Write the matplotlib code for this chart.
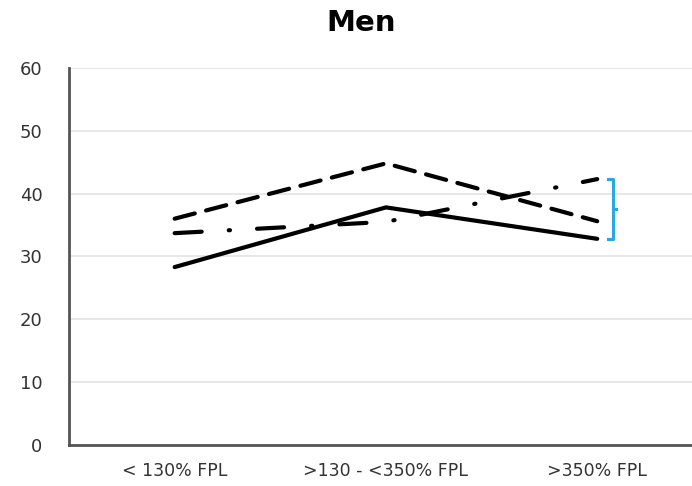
import matplotlib
matplotlib.use("Agg")
import matplotlib.pyplot as plt
import numpy as np

categories = ["< 130% FPL", ">130 - <350% FPL", ">350% FPL"]
solid_vals = [28.3, 37.8, 32.8]
dashed_vals = [36.0, 44.8, 35.6]
dashdot_vals = [33.7, 35.5, 42.3]
yticks = [0, 10, 20, 30, 40, 50, 60]

fig = plt.figure(figsize=(6.92, 4.86), dpi=100)
ax = fig.add_axes([0.0997, 0.0844, 0.916, 0.776])

x = np.arange(len(categories))
ax.plot(x, solid_vals, color="black", lw=3.0, solid_capstyle="round")
ax.plot(x, dashed_vals, color="black", lw=3.0, dashes=(5.0, 2.8), dash_capstyle="round")
ax.plot(x, dashdot_vals, color="black", lw=3.0, dashes=(6.5, 6.5, 0.3, 6.5), dash_capstyle="round")

# bracket spanning end values
ends = [solid_vals[-1], dashed_vals[-1], dashdot_vals[-1]]
lo, hi = min(ends), max(ends)
bx = x[-1] + 0.05
w = 0.025
ax.plot([bx, bx + w, bx + w, bx], [hi, hi, lo, lo], color="#29a9e1", lw=2.2, clip_on=False)
mid = (lo + hi) / 2
ax.plot([bx + w, bx + w + 0.015], [mid, mid], color="#29a9e1", lw=2.2, clip_on=False)

ax.set_xlim(-0.5, 2.5)
ax.set_ylim(0, 60)
ax.set_yticks(yticks)
ax.set_xticks(x)
ax.set_xticklabels(categories, fontsize=12.5, color="#333333")
ax.tick_params(axis="y", labelsize=13, colors="#333333", length=0, pad=19)
ax.tick_params(axis="x", length=0, pad=12)
ax.grid(axis="y", color="#e3e3e3", lw=1.2)
ax.set_axisbelow(True)
for s in ["top", "right"]:
    ax.spines[s].set_visible(False)
for s in ["left", "bottom"]:
    ax.spines[s].set_color("#555555")
    ax.spines[s].set_linewidth(2)

fig.text(0.522, 0.953, "Men", ha="center", va="center", fontsize=21, fontweight="bold")

fig.savefig("out.png", dpi=100)
